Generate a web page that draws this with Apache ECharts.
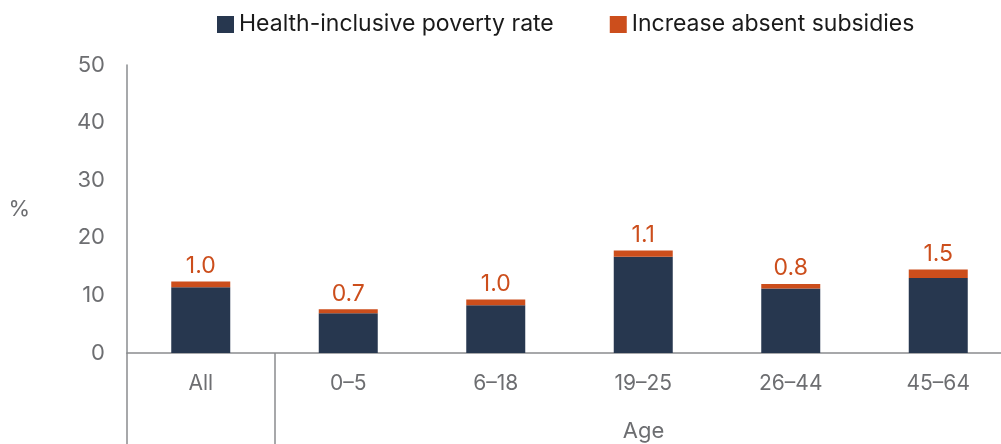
<!DOCTYPE html>
<html><head><meta charset="utf-8">
<script src="https://cdn.jsdelivr.net/npm/echarts@6/dist/echarts.min.js"></script>
<style>html,body{margin:0;padding:0;background:#fff}#c{width:1001px;height:444px}</style>
</head><body><div id="c"></div>
<script>
const categories = ['All', '0–5', '6–18', '19–25', '26–44', '45–64'];
const povertyRate = [11.4, 6.9, 8.3, 16.7, 11.2, 13.0];
const increaseAbsent = [1.0, 0.7, 1.0, 1.1, 0.8, 1.5];
const yTicks = [0, 10, 20, 30, 40, 50];

const chart = echarts.init(document.getElementById('c'));
const axisGray = '#8a8c8f';
const textGray = '#6d6e71';
chart.setOption({
  animation: false,
  textStyle: { fontFamily: 'Inter, Liberation Sans, Arial, sans-serif' },
  legend: {
    top: 8, left: 212,
    icon: 'rect',
    itemWidth: 17, itemHeight: 17, itemGap: 56,
    textStyle: { fontSize: 23, color: '#1a1a1a' },
    data: ['Health-inclusive poverty rate', 'Increase absent subsidies']
  },
  grid: { left: 127, top: 65, width: 885, height: 288, outerBoundsMode: 'none', containLabel: false },
  xAxis: {
    type: 'category', data: categories,
    axisLine: { lineStyle: { color: axisGray, width: 1.5 } },
    axisTick: { show: true, interval: (i) => i === 0 || i === 1, length: 91, lineStyle: { color: axisGray, width: 1.5 } },
    axisLabel: { color: textGray, fontSize: 21, margin: 20 },
    name: 'Age', nameLocation: 'middle', nameGap: 67,
    nameTextStyle: { color: textGray, fontSize: 22, padding: [0, 0, 0, 148] }
  },
  yAxis: {
    type: 'value', min: yTicks[0], max: yTicks[yTicks.length - 1], interval: 10,
    axisLine: { show: true, lineStyle: { color: axisGray, width: 1.5 } },
    axisTick: { show: false },
    splitLine: { show: false },
    axisLabel: { color: textGray, fontSize: 22, margin: 22 },
    name: '%', nameLocation: 'middle', nameRotate: 0, nameGap: 97,
    nameTextStyle: { color: textGray, fontSize: 22 }
  },
  series: [
    { name: 'Health-inclusive poverty rate', type: 'bar', stack: 'a', barWidth: 59,
      data: povertyRate, itemStyle: { color: '#27374f' } },
    { name: 'Increase absent subsidies', type: 'bar', stack: 'a', barWidth: 59,
      data: increaseAbsent, itemStyle: { color: '#cc4e1c' },
      label: { show: true, position: 'top', color: '#cc4e1c', fontSize: 23, distance: 4,
        formatter: (p) => p.value.toFixed(1) } }
  ]
});
</script></body></html>
